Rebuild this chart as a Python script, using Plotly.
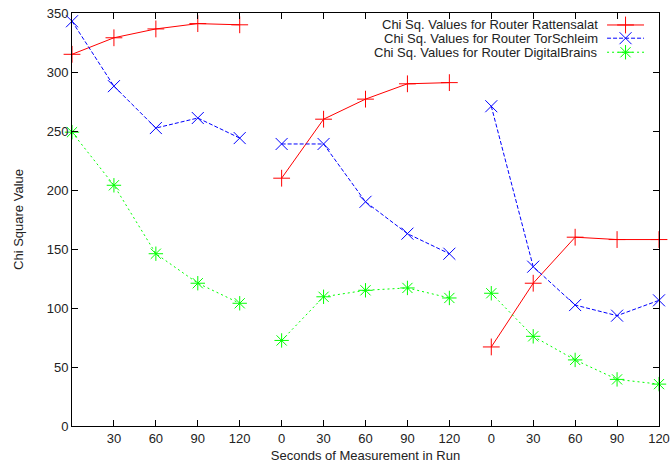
import plotly.graph_objects as go

# Three measurement runs, each sampled at 0/30/60/90/120 seconds
seconds = [0, 30, 60, 90, 120]
run_count = 3

rattensalat = [
    [315, 329, 336.5, 341, 340],
    [210, 260, 277, 290, 291],
    [67, 121, 160, 158, 158],
]
torschleim = [
    [343, 288, 252.5, 261, 244],
    [239, 239, 190, 163, 146],
    [271, 135, 102.5, 93.5, 106.5],
]
digitalbrains = [
    [249, 204, 146, 121, 104],
    [72.5, 109.5, 115, 117, 108.5],
    [112.5, 76, 56, 39.5, 35.5],
]

series = [
    ("Chi Sq. Values for Router Rattensalat", rattensalat, "#ff0000", "solid", "cross-thin-open"),
    ("Chi Sq. Values for Router TorSchleim", torschleim, "#0000ff", "4px,2px", "x-thin-open"),
    ("Chi Sq. Values for Router DigitalBrains", digitalbrains, "#00ff00", "2px,3px", "asterisk-open"),
]

n_per_run = len(seconds)


def flatten(runs):
    """Lay runs side by side on one index axis, breaking the line between runs."""
    xs, ys = [], []
    for r, vals in enumerate(runs):
        for i, v in enumerate(vals):
            xs.append(r * n_per_run + i)
            ys.append(v)
        xs.append(None)
        ys.append(None)
    return xs, ys


fig = go.Figure()
family = "Liberation Sans, Arial, sans-serif"
axis_font = dict(family=family, size=13, color="#222222")
key_font = dict(family=family, size=13, color="#222222")

for name, runs, color, dash, symbol in series:
    xs, ys = flatten(runs)
    fig.add_trace(go.Scatter(
        x=xs, y=ys, mode="lines+markers", name=name,
        line=dict(color=color, width=1, dash=dash),
        marker=dict(symbol=symbol, size=12, color=color, line=dict(color=color, width=1)),
        cliponaxis=False, showlegend=False, connectgaps=False,
    ))

# Legend keys drawn on an overlay axis in plot-area fractions
key_x = [0.9115, 0.943, 0.9745]
key_y = [0.971, 0.939, 0.905]
for (name, runs, color, dash, symbol), ky in zip(series, key_y):
    fig.add_trace(go.Scatter(
        x=key_x, y=[ky] * 3, xaxis="x2", yaxis="y2", mode="lines",
        line=dict(color=color, width=1, dash=dash), showlegend=False, hoverinfo="skip",
    ))
    fig.add_trace(go.Scatter(
        x=[key_x[1]], y=[ky], xaxis="x2", yaxis="y2", mode="markers",
        marker=dict(symbol=symbol, size=12, color=color, line=dict(color=color, width=1)),
        showlegend=False, hoverinfo="skip", cliponaxis=False,
    ))
    fig.add_annotation(
        x=0.897, y=ky, xref="x2", yref="y2", text=name, showarrow=False,
        xanchor="right", yanchor="middle", font=key_font, borderpad=0,
    )

total = run_count * n_per_run
tickvals = list(range(1, total))
ticktext = [str(seconds[i % n_per_run]) for i in tickvals]

fig.update_layout(
    width=671, height=468,
    margin=dict(l=71.5, r=12, t=13, b=42.3),
    paper_bgcolor="white", plot_bgcolor="white",
    font=axis_font,
    showlegend=False,
    xaxis=dict(
        range=[0, total - 1], tickvals=tickvals, ticktext=ticktext,
        ticks="inside", ticklen=6, tickcolor="black", tickwidth=1,
        showline=True, linecolor="black", linewidth=1, mirror="allticks",
        showgrid=False, zeroline=False, automargin=False,
        tickfont=axis_font,
        title=dict(text="Seconds of Measurement in Run", standoff=6, font=axis_font),
    ),
    yaxis=dict(
        range=[0, 350], dtick=50,
        ticks="inside", ticklen=6, tickcolor="black", tickwidth=1,
        showline=True, linecolor="black", linewidth=1, mirror="allticks",
        showgrid=False, zeroline=False, automargin=False,
        tickfont=axis_font,
        title=dict(text="Chi Square Value", standoff=20, font=axis_font),
    ),
    xaxis2=dict(overlaying="x", range=[0, 1], visible=False),
    yaxis2=dict(overlaying="y", range=[0, 1], visible=False),
)

fig.write_html("out.html")
